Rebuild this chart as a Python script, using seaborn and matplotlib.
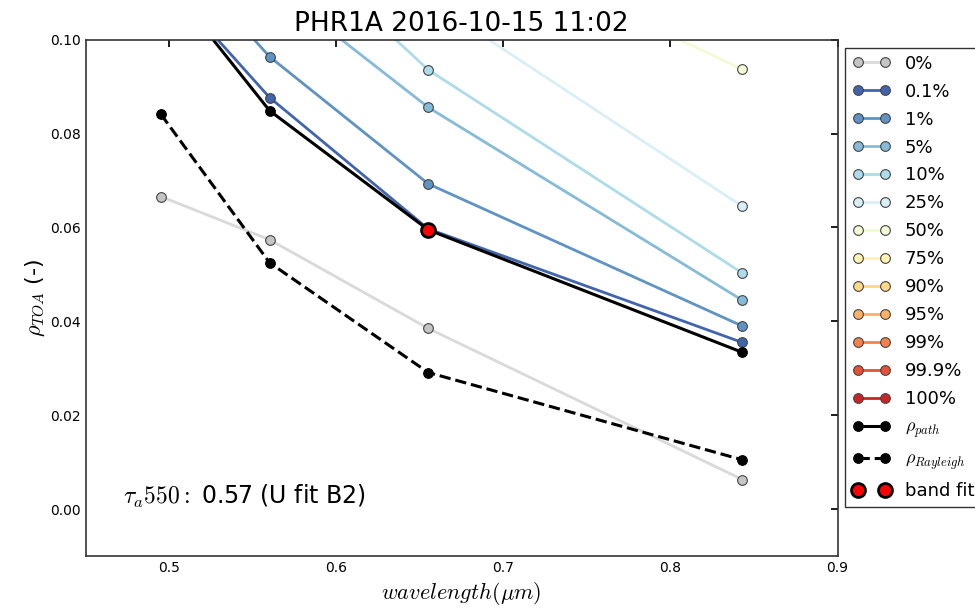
import numpy as np
import pandas as pd
import seaborn as sns
import matplotlib.pyplot as plt

# band centre wavelengths (um)
wavelength = [0.495, 0.560, 0.655, 0.843]

# percentile labels and rho_TOA curves (values above 0.10 are off the plot)
percentiles = ["0%", "0.1%", "1%", "5%", "10%", "25%", "50%", "75%", "90%", "95%", "99%", "99.9%", "100%"]
rho_0 = [0.0666, 0.0574, 0.0385, 0.0063]
rho_01 = [0.1135, 0.0877, 0.0597, 0.0355]
rho_1 = [0.122, 0.0964, 0.0693, 0.0390]
rho_5 = [0.140, 0.112, 0.0856, 0.0445]
rho_10 = [0.150, 0.125, 0.0936, 0.0503]
rho_25 = [0.165, 0.132, 0.1085, 0.0645]
rho_50 = [0.190, 0.155, 0.1254, 0.0937]
rho_75 = [0.220, 0.185, 0.150, 0.120]
rho_90 = [0.250, 0.215, 0.180, 0.150]
rho_95 = [0.270, 0.235, 0.200, 0.170]
rho_99 = [0.300, 0.265, 0.230, 0.200]
rho_999 = [0.330, 0.295, 0.260, 0.230]
rho_100 = [0.360, 0.325, 0.290, 0.260]
curves = [rho_0, rho_01, rho_1, rho_5, rho_10, rho_25, rho_50,
          rho_75, rho_90, rho_95, rho_99, rho_999, rho_100]

rho_path = [0.114, 0.0849, 0.0595, 0.0334]
rho_rayleigh = [0.0841, 0.0525, 0.0291, 0.0105]
band_fit_wl = [0.655]
band_fit_rho = [0.0595]

sns.set_theme(style="white")
plt.rcParams.update({
    "mathtext.fontset": "cm",
    "xtick.direction": "in",
    "ytick.direction": "in",
    "xtick.top": True,
    "ytick.right": True,
    "xtick.major.size": 5,
    "ytick.major.size": 5,
    "xtick.color": "black",
    "ytick.color": "black",
    "text.color": "black",
    "axes.labelcolor": "black",
    "axes.edgecolor": "#333333",
    "axes.linewidth": 1.2,
})
plt.rcParams["font.family"] = ["DejaVu Sans"]

fig = plt.figure(figsize=(9.75, 6.12), dpi=100)
ax = fig.add_axes([0.088, 0.0915, 0.771, 0.8435])

colors = ["#c4c4c4"] + sns.color_palette("RdYlBu_r", 12)
line_colors = ["#d9d9d9"] + sns.color_palette("RdYlBu_r", 12)

for lab, vals, col, lcol in zip(percentiles, curves, colors, line_colors):
    df = pd.DataFrame({"wl": wavelength, "rho": vals})
    sns.lineplot(data=df, x="wl", y="rho", ax=ax, color=lcol, lw=2,
                 marker="o", markersize=7, markerfacecolor=col,
                 markeredgecolor="#444444", markeredgewidth=0.8, label=lab)

df_path = pd.DataFrame({"wl": wavelength, "rho": rho_path})
sns.lineplot(data=df_path, x="wl", y="rho", ax=ax, color="black", lw=2.2,
             marker="o", markersize=7, markeredgecolor="black",
             label=r"$\rho_{path}$")
df_ray = pd.DataFrame({"wl": wavelength, "rho": rho_rayleigh})
sns.lineplot(data=df_ray, x="wl", y="rho", ax=ax, color="black", lw=2.2,
             linestyle="--", marker="o", markersize=7, markeredgecolor="black",
             label=r"$\rho_{Rayleigh}$")
df_fit = pd.DataFrame({"wl": band_fit_wl, "rho": band_fit_rho})
sns.lineplot(data=df_fit, x="wl", y="rho", ax=ax, color="red", lw=0,
             marker="o", markersize=10, markeredgecolor="black",
             markeredgewidth=2, label="band fit")

ax.set_xlim(0.45, 0.9)
ax.set_ylim(-0.01, 0.1)
ax.set_xticks([0.5, 0.6, 0.7, 0.8, 0.9])
ax.set_yticks([0.0, 0.02, 0.04, 0.06, 0.08, 0.10])
ax.set_yticklabels(["0.00", "0.02", "0.04", "0.06", "0.08", "0.10"])
ax.tick_params(labelsize=10)
for s in ax.spines.values():
    s.set_visible(True)

ax.set_xlabel(r"$wavelength (\mu m)$", fontsize=16)
ax.set_ylabel(r"$\rho_{TOA}$ (-)", fontsize=16, labelpad=2)
ax.set_title("PHR1A 2016-10-15 11:02", fontsize=19)

ax.text(0.05, 0.1, r"$\tau_a550:$ 0.57 (U fit B2)", transform=ax.transAxes,
        fontsize=17)

leg = ax.legend(loc="upper left", bbox_to_anchor=(1.01, 0.985), numpoints=2,
                fontsize=13, frameon=True, fancybox=False, borderaxespad=0,
                labelspacing=0.55, handlelength=2.1)
leg.get_frame().set_edgecolor("black")
leg.get_frame().set_linewidth(1.0)

fig.savefig("out.png", dpi=100)
